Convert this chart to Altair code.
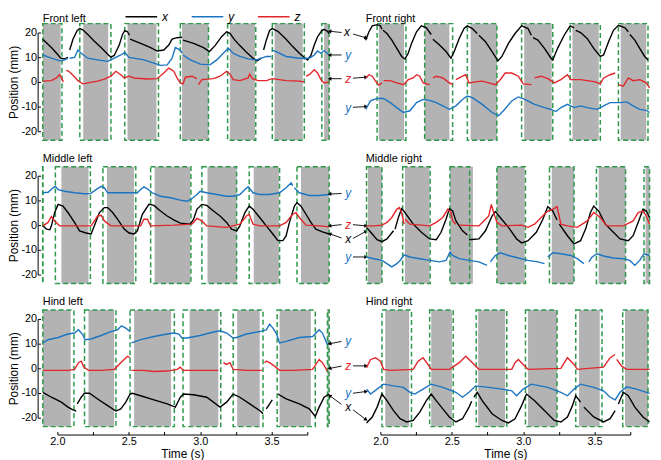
import math
import altair as alt
import pandas as pd

# ---------------- frame of the axes ----------------
T_MIN, T_MAX = 2.0, 3.75
Y_MIN, Y_MAX = -20, 20
BOX_TOP, BOX_BOT = 23.6, -23.6
PANEL_W, PANEL_H = 253, 100
TITLE_T = 1.898          # panel names start at the left edge of the traces
TITLE_V_TOP_ROW = 24.4   # baseline of the panel names (mm, above the frame)
TITLE_V = 25.6

BLACK = "#000000"
BLUE = "#1b75c2"
RED = "#e3262b"
GREEN = "#2c9a4a"
GRAY = "#b3b3b3"
SERIES = ["x", "y", "z"]
SERIES_COLORS = [BLACK, BLUE, RED]
X_TICKS = [2.0, 2.25, 2.5, 2.75, 3.0, 3.25, 3.5, 3.75]
Y_TICKS = [-20, -10, 0, 10, 20]
FONT = "Liberation Sans"

# ---------------- Front left ----------------
FL_X = [
    [(1.898, 17.3), (1.958, 13.9), (2.005, 10.9), (2.023, 9.6), (2.051, 9.3), (2.074, 9.9)],
    [(2.086, 12.9), (2.109, 17.3), (2.139, 20.8), (2.157, 21.6), (2.178, 21.1), (2.213, 19.2), (2.259, 16.5),
     (2.306, 13.9), (2.352, 11.2), (2.375, 10.0), (2.398, 10.7), (2.433, 14.9), (2.456, 19.2), (2.472, 20.8),
     (2.491, 20.3), (2.505, 18.9)],
    [(2.509, 17.3), (2.583, 15.6), (2.653, 13.9), (2.699, 12.5), (2.745, 12.9), (2.780, 14.9), (2.803, 17.3),
     (2.838, 17.9), (2.873, 18.1)],
    [(2.880, 16.9), (2.954, 15.6), (3.023, 13.9), (3.065, 12.3), (3.104, 14.7), (3.150, 18.3), (3.185, 20.3),
     (3.208, 19.7), (3.243, 16.9), (3.278, 14.7), (3.324, 12.0), (3.370, 9.6), (3.398, 8.5), (3.428, 9.6)],
    [(3.444, 12.9), (3.463, 16.9), (3.486, 20.8), (3.505, 21.6), (3.544, 20.5), (3.602, 17.3), (3.648, 14.3),
     (3.694, 11.6), (3.729, 9.9), (3.752, 8.9), (3.775, 10.7), (3.799, 14.9), (3.822, 18.3), (3.852, 20.8),
     (3.868, 21.3), (3.891, 20.5), (3.903, 19.6)],
]
FL_Y = [
    [(1.898, 10.9), (1.958, 9.6), (2.016, 8.5), (2.051, 8.9), (2.074, 9.6)],
    [(2.086, 9.6), (2.120, 9.9), (2.144, 12.9), (2.167, 11.6), (2.213, 9.6), (2.282, 8.9), (2.352, 8.3),
     (2.398, 9.6), (2.444, 10.9), (2.472, 11.9), (2.502, 9.9), (2.606, 8.9), (2.676, 7.6), (2.722, 6.7),
     (2.769, 6.9), (2.803, 9.6), (2.826, 13.9), (2.861, 12.9), (2.873, 11.6)],
    [(2.880, 10.9), (2.931, 8.9), (3.000, 7.2), (3.069, 6.9), (3.116, 8.9), (3.162, 11.6), (3.197, 13.6),
     (3.231, 11.6), (3.278, 10.3), (3.336, 9.3), (3.394, 8.9), (3.463, 10.3), (3.498, 10.3)],
    [(3.505, 12.9), (3.532, 12.3), (3.602, 10.3), (3.694, 9.6), (3.764, 9.6), (3.799, 10.9), (3.822, 12.5),
     (3.845, 11.6), (3.868, 12.7), (3.903, 10.9)],
]
FL_Z = [
    [(1.898, 0.3), (1.958, 0.5), (1.993, 1.6), (2.016, 2.9), (2.028, 1.6), (2.042, 0.0)],
    [(2.063, 4.8), (2.086, 4.0), (2.109, 2.7), (2.144, 0.5), (2.178, -0.8), (2.213, -0.4), (2.282, 0.3),
     (2.329, 1.1), (2.375, 2.3), (2.410, 4.3), (2.444, 2.9), (2.468, 1.6), (2.502, 2.3), (2.537, 1.6),
     (2.630, 1.2), (2.699, 1.3), (2.745, 3.6), (2.780, 5.6), (2.815, 4.3), (2.838, 1.6), (2.861, -0.4),
     (2.880, -0.8), (2.896, 1.9), (2.942, 2.3), (2.977, 1.3)],
    [(2.988, -1.1), (3.012, 0.9), (3.093, 1.3), (3.139, 2.3), (3.185, 4.3), (3.208, 3.2), (3.231, 0.9),
     (3.278, 0.5), (3.336, 1.6), (3.347, 3.2), (3.366, 1.3), (3.405, 0.5), (3.463, 0.5), (3.505, 1.3),
     (3.602, 0.5), (3.694, 0.3), (3.729, 0.0)],
    [(3.741, 2.3), (3.764, 2.9), (3.799, 4.9), (3.822, 3.6), (3.845, 0.9), (3.868, -0.4), (3.903, 0.0)],
]
FL_STANCE = [(1.898, 2.023), (2.181, 2.356), (2.491, 2.694), (2.873, 3.058), (3.208, 3.384), (3.521, 3.718),
             (3.868, 3.903)]
FL_BOX = [(1.898, 2.032), (2.157, 2.375), (2.472, 2.708), (2.861, 3.058), (3.192, 3.389), (3.505, 3.729),
          (3.852, 3.903)]

# ---------------- Front right ----------------
FR_X = [
    [(1.897, 16.9), (1.920, 20.3), (1.943, 22.7), (1.977, 23.2), (2.000, 22.7), (2.011, 21.3)],
    [(2.018, 20.9), (2.046, 19.6), (2.080, 16.9), (2.115, 13.6), (2.149, 10.3), (2.172, 9.3), (2.195, 11.6),
     (2.218, 15.6), (2.253, 20.3), (2.287, 22.7), (2.322, 21.9), (2.356, 19.2)],
    [(2.368, 17.3), (2.414, 14.9), (2.460, 12.3), (2.494, 9.6), (2.517, 12.3), (2.552, 17.6), (2.586, 21.6),
     (2.609, 22.7), (2.644, 21.6), (2.678, 19.6)],
    [(2.690, 18.9), (2.736, 16.3), (2.782, 12.3), (2.823, 8.5), (2.851, 10.3), (2.897, 15.6), (2.943, 19.6),
     (2.989, 22.7), (3.034, 21.6), (3.057, 18.9)],
    [(3.069, 17.9), (3.103, 16.9), (3.149, 13.6), (3.195, 9.6), (3.207, 8.9), (3.241, 13.6), (3.287, 18.9),
     (3.329, 22.7), (3.356, 21.9)],
    [(3.368, 20.9), (3.402, 20.0), (3.448, 17.6), (3.494, 13.6), (3.540, 10.3), (3.563, 10.9), (3.598, 16.3),
     (3.632, 20.9), (3.667, 22.9), (3.713, 21.9), (3.736, 20.3)],
    [(3.747, 19.2), (3.782, 16.9), (3.816, 13.6), (3.851, 10.3), (3.874, 8.9)],
]
FR_Y = [
    [(1.897, -11.1), (1.931, -7.7), (1.977, -6.7), (2.023, -6.7), (2.069, -8.4), (2.115, -10.4), (2.161, -12.4),
     (2.207, -11.7), (2.253, -8.4), (2.299, -7.1), (2.345, -7.5), (2.391, -8.4), (2.437, -9.7), (2.483, -11.1),
     (2.529, -9.7), (2.575, -7.1), (2.609, -5.7), (2.644, -6.4), (2.713, -9.1), (2.782, -12.4), (2.828, -13.7),
     (2.862, -11.7), (2.920, -7.7), (2.966, -6.1), (3.011, -7.1), (3.080, -9.1), (3.149, -10.4), (3.195, -11.1),
     (3.230, -12.0), (3.264, -10.4), (3.310, -9.1), (3.356, -10.4), (3.402, -9.7), (3.448, -10.4),
     (3.517, -11.1), (3.563, -9.7), (3.609, -8.4), (3.678, -8.4), (3.724, -8.1), (3.770, -9.7), (3.816, -11.1),
     (3.862, -11.5), (3.885, -12.4)],
]
FR_Z = [
    [(1.897, 1.6), (1.920, 2.9), (1.943, 2.3), (1.966, 0.3), (1.989, -1.3), (2.011, -0.4)],
    [(2.023, 0.5), (2.069, 0.5), (2.115, -0.4), (2.161, -1.1), (2.195, 0.9), (2.230, 1.6), (2.253, 2.9),
     (2.276, 2.3), (2.299, -0.4), (2.345, -1.1)],
    [(2.368, 1.6), (2.391, 2.3), (2.437, 1.6), (2.483, -0.4), (2.506, -1.1)],
    [(2.529, 0.9), (2.575, 2.3), (2.598, 2.9), (2.621, -0.4), (2.667, 0.0), (2.713, 0.3), (2.759, -0.4),
     (2.805, -1.1), (2.839, 0.9), (2.874, 3.6), (2.920, 3.6), (2.966, 2.3), (3.000, -0.8), (3.057, -1.1)],
    [(3.080, 1.6), (3.126, 2.3), (3.172, 1.3), (3.218, -0.4), (3.264, 0.9), (3.310, 2.9), (3.333, 0.9),
     (3.402, 0.9), (3.506, 0.0), (3.540, -0.8), (3.563, 1.6), (3.609, 2.9), (3.644, 3.6)],
    [(3.667, -1.1), (3.701, -1.7), (3.736, 1.6), (3.770, 0.5), (3.816, 0.9), (3.862, -0.4), (3.885, -2.4)],
]
FR_STANCE = [(1.989, 2.166), (2.310, 2.483), (2.632, 2.816), (3.007, 3.200), (3.345, 3.529), (3.683, 3.862)]
FR_BOX = [(1.977, 2.179), (2.310, 2.506), (2.609, 2.816), (2.989, 3.207), (3.329, 3.540), (3.667, 3.874)]

# ---------------- Middle left ----------------
ML_X = [
    [(1.898, -0.3), (1.924, -1.6), (1.947, -1.9), (1.958, -0.3), (1.981, 5.1), (2.005, 8.4), (2.039, 7.7),
     (2.074, 5.1), (2.120, 1.1), (2.155, -2.3), (2.201, -3.2), (2.236, -3.6), (2.259, -0.3), (2.294, 5.1),
     (2.329, 7.1), (2.352, 7.1), (2.387, 5.1), (2.421, 2.4), (2.468, -1.6), (2.502, -3.2), (2.537, -3.6),
     (2.560, -2.3), (2.595, 4.4), (2.641, 8.4), (2.676, 8.0), (2.722, 5.7), (2.769, 3.7), (2.815, 2.1),
     (2.861, 0.8), (2.931, 0.4), (2.954, 2.4), (2.977, 6.4), (3.012, 8.4), (3.046, 8.0), (3.093, 5.7),
     (3.139, 3.7), (3.185, 1.1), (3.220, -1.6), (3.255, -2.3), (3.278, -0.3), (3.313, 5.1), (3.343, 7.7),
     (3.370, 6.4), (3.417, 3.1), (3.463, -0.3), (3.509, -3.6), (3.544, -6.3), (3.579, -6.3), (3.602, -4.3),
     (3.625, 1.1), (3.660, 7.7), (3.678, 9.1), (3.706, 7.7), (3.741, 4.4), (3.775, 1.1), (3.810, -1.6),
     (3.856, -2.7), (3.903, -3.6)],
]
ML_Y = [
    [(1.898, 13.1), (1.935, 13.3), (1.970, 15.1), (1.986, 15.7), (2.005, 14.4), (2.051, 13.7), (2.120, 13.1),
     (2.190, 12.7), (2.231, 12.8), (2.271, 14.4), (2.306, 15.7), (2.329, 15.1), (2.352, 13.1), (2.491, 13.1),
     (2.560, 13.1), (2.583, 14.4), (2.606, 15.5), (2.630, 14.7), (2.664, 13.1), (2.722, 11.7), (2.792, 11.1),
     (2.861, 10.1), (2.907, 9.7), (2.942, 10.7), (2.977, 12.4), (3.000, 13.7), (3.046, 13.1), (3.116, 12.4),
     (3.185, 11.7), (3.231, 11.7), (3.278, 12.4), (3.313, 14.4), (3.336, 15.5), (3.370, 13.1), (3.417, 12.4),
     (3.486, 12.4), (3.556, 13.1), (3.602, 15.1), (3.637, 17.1), (3.648, 16.0)],
    [(3.660, 15.1), (3.694, 13.1), (3.764, 12.0), (3.833, 12.0), (3.903, 12.4)],
]
ML_Z = [
    [(1.898, -0.3), (1.935, 1.1), (1.958, 3.5), (1.981, 1.7), (2.016, -0.3), (2.144, -0.3), (2.236, -0.3),
     (2.259, 1.7), (2.282, 3.7), (2.306, 4.0), (2.329, 1.7), (2.375, -0.3), (2.583, -0.3), (2.606, 2.4),
     (2.630, 2.4), (2.653, -0.3), (2.815, 0.0), (2.942, 0.4), (2.977, 2.7), (3.012, 1.7), (3.046, -0.3),
     (3.185, -0.9), (3.278, 0.4), (3.324, 3.7), (3.343, 4.4), (3.370, 0.4), (3.417, -0.3), (3.556, -0.3),
     (3.602, 1.1), (3.648, 4.4), (3.671, 5.1), (3.694, 3.1), (3.741, 0.0), (3.833, -0.3), (3.903, -0.7)],
]
ML_STANCE = [(2.028, 2.218), (2.347, 2.537), (2.681, 2.931), (3.051, 3.255), (3.375, 3.551), (3.706, 3.903)]
ML_BOX = [(1.897, 1.899), (1.986, 2.231), (2.319, 2.549), (2.653, 2.935), (3.012, 3.255), (3.343, 3.556),
          (3.678, 3.903)]

# ---------------- Middle right ----------------
MR_X = [
    [(1.903, -0.9), (1.943, -3.6), (1.977, -5.9), (2.011, -6.7), (2.046, -5.6), (2.092, -2.3)],
    [(2.103, -1.6), (2.126, 3.1), (2.149, 6.7), (2.172, 5.1), (2.230, 0.4), (2.287, -2.9), (2.345, -5.6),
     (2.391, -5.9), (2.425, -2.9), (2.460, 2.4), (2.483, 6.7), (2.506, 5.7), (2.529, 1.7), (2.575, -2.3),
     (2.609, -4.0)],
    [(2.621, -5.9), (2.690, -5.6), (2.736, -2.3), (2.782, 3.7), (2.805, 5.5), (2.839, 3.1), (2.897, -0.9),
     (2.954, -5.6), (2.989, -7.2), (3.034, -6.3), (3.092, -2.9), (3.138, 2.4), (3.172, 7.5), (3.207, 5.7),
     (3.237, 2.1)],
    [(3.253, 0.4), (3.310, -4.3), (3.356, -7.6), (3.402, -6.3), (3.437, -1.6), (3.471, 5.1), (3.494, 7.7),
     (3.529, 5.7), (3.575, 0.4), (3.632, -2.9), (3.678, -5.6), (3.736, -6.3), (3.770, -4.3), (3.805, 1.1),
     (3.839, 6.4), (3.862, 5.7), (3.885, 3.1)],
]
MR_Y = [
    [(1.903, -12.9), (1.954, -13.6), (2.011, -14.3), (2.046, -15.6), (2.080, -16.9), (2.115, -15.6),
     (2.138, -14.3), (2.166, -12.0), (2.207, -12.9), (2.276, -13.6), (2.345, -14.3), (2.414, -14.9),
     (2.460, -14.3), (2.487, -10.9), (2.506, -12.3), (2.552, -13.6), (2.621, -14.3), (2.690, -14.9),
     (2.747, -16.3)],
    [(2.770, -14.9), (2.805, -12.3), (2.839, -11.2), (2.897, -12.3), (2.966, -13.3), (3.034, -14.3),
     (3.103, -14.9), (3.149, -15.6)],
    [(3.172, -12.9), (3.207, -11.2), (3.264, -11.6), (3.333, -12.3), (3.379, -13.6), (3.425, -15.6)],
    [(3.460, -14.9), (3.483, -12.9), (3.517, -11.6), (3.563, -12.5), (3.632, -13.3), (3.701, -13.6),
     (3.747, -14.3), (3.782, -16.3), (3.816, -14.3), (3.846, -11.6), (3.885, -12.3)],
]
MR_Z = [
    [(1.903, -0.3), (1.954, -0.3), (2.011, 0.0), (2.046, 1.1), (2.080, 3.1), (2.115, 6.4), (2.133, 7.1),
     (2.149, 5.1), (2.166, 0.4)],
    [(2.172, 2.4), (2.207, 0.4), (2.345, -0.3), (2.391, 1.1), (2.437, 3.1), (2.471, 6.4), (2.494, 5.1),
     (2.506, 1.7), (2.529, 0.4)],
    [(2.552, 0.0), (2.690, -0.3), (2.724, 1.7), (2.759, 3.7), (2.777, 8.4), (2.793, 5.1), (2.816, 1.1),
     (2.851, -0.3), (2.989, 0.0), (3.034, -0.9), (3.080, 0.4), (3.126, 3.1), (3.172, 5.7), (3.207, 6.4),
     (3.237, 7.5), (3.264, 0.4), (3.310, -0.3), (3.379, -0.9), (3.448, 1.7), (3.494, 5.1), (3.540, 3.1),
     (3.586, -0.3), (3.701, -0.3), (3.770, 1.7), (3.805, 5.1), (3.839, 5.7), (3.862, 3.7), (3.885, 0.4)],
]
MR_STANCE = [(1.912, 2.011), (2.172, 2.345), (2.487, 2.648), (2.816, 3.011), (3.200, 3.356), (3.529, 3.717),
             (3.857, 3.885)]
MR_BOX = [(1.903, 2.011), (2.156, 2.349), (2.487, 2.625), (2.816, 3.016), (3.184, 3.356), (3.513, 3.717),
          (3.846, 3.885)]

# ---------------- Hind left ----------------
HL_X = [
    [(1.898, -9.7), (1.958, -11.7), (2.028, -13.7), (2.074, -15.7), (2.109, -16.8), (2.132, -17.3)],
    [(2.139, -14.4), (2.167, -11.7), (2.190, -10.1), (2.225, -10.1), (2.282, -12.4), (2.352, -15.1),
     (2.410, -17.3), (2.444, -16.4), (2.479, -13.7), (2.509, -10.4), (2.525, -10.1), (2.583, -11.1),
     (2.676, -12.8), (2.769, -14.4), (2.826, -15.7), (2.861, -11.7), (2.884, -10.4), (2.954, -10.7),
     (3.046, -11.7), (3.139, -15.7), (3.185, -13.7), (3.231, -10.4), (3.278, -11.7), (3.347, -14.4),
     (3.417, -17.1), (3.440, -18.4)],
    [(3.463, -16.4), (3.486, -14.4), (3.505, -12.8)],
    [(3.544, -10.4), (3.602, -12.4), (3.694, -14.4), (3.764, -16.4), (3.806, -19.5), (3.833, -15.7),
     (3.868, -11.7), (3.903, -10.4)],
]
HL_Y = [
    [(1.898, 10.3), (1.935, 11.6), (2.005, 12.5), (2.074, 13.9), (2.120, 14.3), (2.148, 15.6), (2.178, 13.6),
     (2.194, 11.6), (2.236, 11.9), (2.306, 13.3), (2.375, 14.9), (2.421, 15.6), (2.449, 17.2), (2.479, 16.3),
     (2.509, 14.9)],
    [(2.519, 10.3), (2.583, 11.6), (2.676, 12.9), (2.769, 13.9), (2.815, 14.3), (2.850, 13.9), (2.873, 12.3),
     (2.907, 12.3), (3.000, 13.3), (3.093, 14.7), (3.139, 15.2), (3.185, 14.3), (3.231, 12.3), (3.255, 12.5),
     (3.324, 13.9), (3.417, 14.9), (3.463, 15.6), (3.486, 17.9), (3.509, 16.3), (3.532, 14.3), (3.556, 10.3),
     (3.602, 10.9), (3.694, 12.5), (3.787, 12.9), (3.822, 14.9), (3.833, 15.6), (3.856, 14.3), (3.891, 9.6)],
]
HL_Z = [
    [(1.898, -0.8), (2.074, -0.8), (2.120, -0.4), (2.148, 2.3), (2.167, 2.9), (2.185, 0.5), (2.218, -0.8),
     (2.306, -0.8), (2.398, -0.4), (2.444, 2.3), (2.491, 4.9), (2.509, 4.3)],
    [(2.519, -0.8), (2.606, -0.8), (2.676, -1.3), (2.769, -1.1), (2.838, -0.4), (2.861, 0.5), (2.880, -0.8),
     (3.000, -0.8), (3.127, -0.8)],
    [(3.162, 2.3), (3.185, 1.6), (3.208, 2.3), (3.231, -0.4), (3.324, -0.8), (3.435, -0.8)],
    [(3.451, 2.3), (3.463, 2.9), (3.486, 2.3), (3.521, 0.9), (3.556, -0.8), (3.648, -0.8), (3.787, -0.4),
     (3.833, 3.6), (3.856, 2.3), (3.891, -1.1)],
]
HL_STANCE = [(1.898, 2.093), (2.218, 2.398), (2.537, 2.796), (2.926, 3.127), (3.259, 3.417), (3.556, 3.775),
             (3.891, 3.903)]
HL_BOX = [(1.898, 2.116), (2.190, 2.410), (2.509, 2.819), (2.880, 3.144), (3.231, 3.440), (3.539, 3.806),
          (3.891, 3.903)]

# ---------------- Hind right ----------------
HR_X = [
    [(1.903, -22.1), (1.943, -19.7), (1.977, -15.7), (2.011, -10.4), (2.046, -13.1), (2.092, -17.1),
     (2.138, -20.4), (2.184, -21.7), (2.230, -21.1), (2.276, -17.7), (2.322, -13.1), (2.356, -10.4),
     (2.391, -13.1), (2.437, -16.4), (2.483, -19.7), (2.529, -21.7), (2.575, -20.4), (2.621, -15.7),
     (2.639, -13.3)],
    [(2.655, -11.7), (2.678, -9.7), (2.713, -13.1), (2.782, -18.4), (2.851, -21.1), (2.897, -22.1),
     (2.943, -20.4), (2.989, -15.1), (3.023, -10.4), (3.080, -13.1), (3.149, -17.1), (3.218, -21.1),
     (3.264, -21.7), (3.310, -19.7), (3.345, -15.1), (3.368, -11.1), (3.402, -13.7)],
    [(3.425, -15.7), (3.494, -19.7), (3.563, -21.7), (3.609, -20.4), (3.644, -17.1)],
    [(3.667, -14.4), (3.701, -9.7), (3.736, -11.1), (3.782, -15.7), (3.839, -19.7), (3.885, -21.7)],
]
HR_Y = [
    [(1.903, -8.4), (1.931, -10.4), (1.977, -8.4), (2.023, -6.4), (2.092, -7.1), (2.161, -7.7), (2.207, -9.7),
     (2.241, -10.4), (2.299, -8.4), (2.356, -6.4), (2.437, -7.7), (2.529, -9.7), (2.575, -11.7), (2.621, -9.7),
     (2.667, -7.1), (2.759, -7.7), (2.851, -8.4), (2.920, -9.1), (2.954, -11.1), (3.000, -8.4), (3.057, -6.4),
     (3.172, -7.7), (3.264, -9.7), (3.310, -11.1), (3.356, -8.4), (3.402, -6.4), (3.494, -7.7), (3.563, -9.1),
     (3.609, -11.7), (3.644, -12.8), (3.678, -9.7), (3.724, -7.5), (3.793, -8.4), (3.885, -10.1)],
]
HR_Z = [
    [(1.903, 0.3), (1.931, 3.6), (1.966, 4.3), (2.000, 2.9), (2.023, -0.4), (2.069, -0.8), (2.230, -0.4),
     (2.264, 2.9), (2.299, 4.3), (2.333, 1.6), (2.356, -0.4), (2.483, -0.4), (2.552, 2.3), (2.598, 4.9),
     (2.644, 2.3), (2.690, -0.4), (2.920, -0.4), (2.943, 2.3), (2.966, 3.6), (3.000, 1.6), (3.034, -0.4),
     (3.264, 0.0), (3.310, 4.3), (3.356, 1.6), (3.379, -0.4), (3.563, 0.5), (3.609, 4.3), (3.644, 5.6)],
    [(3.655, 3.6), (3.690, 0.9), (3.724, -0.4), (3.885, -0.4)],
]
HR_STANCE = [(2.034, 2.202), (2.356, 2.501), (2.685, 2.874), (3.034, 3.237), (3.391, 3.536), (3.713, 3.874)]
HR_BOX = [(2.011, 2.218), (2.345, 2.510), (2.671, 2.885), (3.016, 3.237), (3.368, 3.552), (3.697, 3.874)]

# ---------------- labels between the columns (left-panel time scale) ----------------
ROW1_LABELS = [("x", 4.027, 20.0), ("y", 4.037, 10.9), ("z", 4.037, 1.3), ("y", 4.037, -10.4)]
ROW1_ARROWS = [(3.99, 20.0, 3.91, 20.5), (4.07, 19.4, 4.158, 17.9), (3.99, 10.9, 3.91, 10.9),
               (3.99, 1.3, 3.91, 1.3), (4.07, 1.5, 4.158, 1.9), (4.07, -10.3, 4.158, -10.0)]
ROW2_LABELS = [("y", 4.037, 12.8), ("z", 4.037, 0.2), ("x", 4.037, -5.8), ("y", 4.037, -12.9)]
ROW2_ARROWS = [(3.99, 0.2, 3.91, -0.3), (4.07, 0.2, 4.158, -0.3), (3.99, 12.8, 3.91, 12.6),
               (3.99, -5.2, 3.91, -3.6), (4.07, -5.4, 4.158, -2.6), (4.07, -12.9, 4.158, -12.9)]
ROW3_LABELS = [("y", 4.037, 10.9), ("z", 4.037, 0.9), ("y", 4.037, -10.1), ("x", 4.037, -15.8)]
ROW3_ARROWS = [(3.99, 10.9, 3.91, 10.0), (3.99, 0.9, 3.91, 0.0), (4.07, 1.0, 4.158, 1.0),
               (4.07, -10.1, 4.158, -9.4), (3.99, -14.6, 3.91, -11.2), (4.07, -16.8, 4.158, -20.6)]

PX_PER_S = PANEL_W / (T_MAX - T_MIN)
PX_PER_MM = PANEL_H / (Y_MAX - Y_MIN)

X_SCALE = alt.Scale(domain=[T_MIN, T_MAX], nice=False, zero=False)
Y_SCALE = alt.Scale(domain=[Y_MIN, Y_MAX], nice=False, zero=False)

Y_AXIS = alt.Axis(values=Y_TICKS, offset=20, tickSize=0, labelPadding=1, grid=False,
                  domainColor=BLACK, domainWidth=1, labelColor=BLACK, labelFontSize=11, labelFont=FONT,
                  labelExpr="datum.value < 0 ? '-' + format(-datum.value, 'd') : format(datum.value, 'd')",
                  title="Position (mm)", titleFontSize=12, titleFontWeight="normal", titleFont=FONT,
                  titleColor=BLACK, titlePadding=0)
Y_TICK_AXIS = alt.Axis(values=Y_TICKS, offset=17, tickSize=3, tickColor=BLACK, tickWidth=1, labels=False,
                       domain=False, grid=False, title=None, orient="left")
X_AXIS = alt.Axis(values=X_TICKS, offset=17, tickSize=0, labelPadding=1, grid=False,
                  domainColor=BLACK, domainWidth=1, labelColor=BLACK, labelFontSize=11, labelFont=FONT,
                  labelExpr="round(datum.value * 4) % 2 == 0 ? format(datum.value, '.1f') : ''",
                  labelFlush=False, labelOverlap=False,
                  title="Time (s)", titleFontSize=12, titleFontWeight="normal", titleFont=FONT,
                  titleColor=BLACK, titlePadding=2)
X_TICK_AXIS = alt.Axis(values=X_TICKS, offset=14, tickSize=3, tickColor=BLACK, tickWidth=1, labels=False,
                       domain=False, grid=False, title=None, orient="bottom")

# legend line: a long horizontal path on a small symbol, so the legend stays one text-line tall
LEGEND = alt.Legend(orient="none", legendX=79, legendY=-22, direction="horizontal", title=None,
                    symbolType="M-3.2,0H3.2", symbolSize=100, symbolStrokeWidth=1.5,
                    labelFontStyle="italic", labelFontSize=12, labelFont=FONT, labelColor=BLACK,
                    labelOffset=15, columnPadding=21, padding=0)
COLOR = alt.Color("series:N", scale=alt.Scale(domain=SERIES, range=SERIES_COLORS), legend=LEGEND)


def line_frame(x_segs, y_segs, z_segs):
    rows = []
    for name, segs in zip(SERIES, (x_segs, y_segs, z_segs)):
        for k, seg in enumerate(segs):
            for i, (t, v) in enumerate(seg):
                rows.append({"series": name, "seg": f"{name}{k}", "i": i, "t": t, "v": v})
    return pd.DataFrame(rows)


def span_frame(spans):
    return pd.DataFrame({"t0": [a for a, _ in spans], "t1": [b for _, b in spans],
                         "top": BOX_TOP, "bot": BOX_BOT})


def panel(title, xs, ys, zs, stance, boxes, left, bottom, labels=None, arrows=None, title_v=TITLE_V):
    gray = alt.Chart(span_frame(stance)).mark_rect(color=GRAY).encode(
        x=alt.X("t0:Q", scale=X_SCALE, axis=X_AXIS if bottom else None),
        x2="t1:Q",
        y=alt.Y("top:Q", scale=Y_SCALE, axis=Y_AXIS if left else None),
        y2="bot:Q",
    )
    dashed = alt.Chart(span_frame(boxes)).mark_rect(fillOpacity=0, stroke=GREEN, strokeWidth=1.5,
                                                    strokeDash=[5, 3]).encode(
        x=alt.X("t0:Q", scale=X_SCALE, axis=X_TICK_AXIS if bottom else None),
        x2="t1:Q",
        y=alt.Y("top:Q", scale=Y_SCALE, axis=Y_TICK_AXIS if left else None),
        y2="bot:Q",
    )
    lines = alt.Chart(line_frame(xs, ys, zs)).mark_line(strokeWidth=1.4).encode(
        x=alt.X("t:Q", scale=X_SCALE, axis=None),
        y=alt.Y("v:Q", scale=Y_SCALE, axis=None),
        color=COLOR,
        detail="seg:N",
        order="i:Q",
    )
    name = alt.Chart(pd.DataFrame({"text": [title], "t": [TITLE_T], "v": [title_v]})).mark_text(
        align="left", baseline="alphabetic", fontSize=11, font=FONT, color=BLACK).encode(
        x=alt.X("t:Q", scale=X_SCALE, axis=None),
        y=alt.Y("v:Q", scale=Y_SCALE, axis=None),
        text="text:N",
    )
    layers = [gray, dashed, lines, name]
    if labels:
        cmap = dict(zip(SERIES, SERIES_COLORS))
        lab = pd.DataFrame({"text": [s for s, _, _ in labels], "t": [t for _, t, _ in labels],
                            "v": [v for _, _, v in labels]})
        lab["col"] = lab["text"].map(cmap)
        arr = pd.DataFrame(arrows, columns=["t0", "v0", "t1", "v1"])
        arr["ang"] = [
            math.degrees(math.atan2((r.t1 - r.t0) * PX_PER_S, (r.v1 - r.v0) * PX_PER_MM)) % 360
            for r in arr.itertuples()
        ]
        layers.append(alt.Chart(lab).mark_text(fontSize=12, fontStyle="italic", font=FONT, align="center",
                                               baseline="middle").encode(
            x=alt.X("t:Q", scale=X_SCALE, axis=None),
            y=alt.Y("v:Q", scale=Y_SCALE, axis=None),
            text="text:N",
            color=alt.Color("col:N", scale=None),
        ))
        layers.append(alt.Chart(arr).mark_rule(color=BLACK, strokeWidth=0.9).encode(
            x=alt.X("t0:Q", scale=X_SCALE, axis=None),
            y=alt.Y("v0:Q", scale=Y_SCALE, axis=None),
            x2="t1:Q",
            y2="v1:Q",
        ))
        layers.append(alt.Chart(arr).mark_point(shape="triangle", filled=True, size=18, color=BLACK,
                                                opacity=1).encode(
            x=alt.X("t1:Q", scale=X_SCALE, axis=None),
            y=alt.Y("v1:Q", scale=Y_SCALE, axis=None),
            angle=alt.Angle("ang:Q", scale=None),
        ))
    return alt.layer(*layers).properties(width=PANEL_W, height=PANEL_H).resolve_axis(
        x="independent", y="independent")


fl = panel("Front left", FL_X, FL_Y, FL_Z, FL_STANCE, FL_BOX, True, False, ROW1_LABELS, ROW1_ARROWS,
           title_v=TITLE_V_TOP_ROW)
fr = panel("Front right", FR_X, FR_Y, FR_Z, FR_STANCE, FR_BOX, False, False, title_v=TITLE_V_TOP_ROW)
ml = panel("Middle left", ML_X, ML_Y, ML_Z, ML_STANCE, ML_BOX, True, False, ROW2_LABELS, ROW2_ARROWS)
mr = panel("Middle right", MR_X, MR_Y, MR_Z, MR_STANCE, MR_BOX, False, False)
hl = panel("Hind left", HL_X, HL_Y, HL_Z, HL_STANCE, HL_BOX, True, True, ROW3_LABELS, ROW3_ARROWS)
hr = panel("Hind right", HR_X, HR_Y, HR_Z, HR_STANCE, HR_BOX, False, True)

chart = alt.concat(fl, fr, ml, mr, hl, hr, columns=2, spacing={"row": 45, "column": 74},
                   bounds="flush").resolve_scale(
    x="independent", y="independent", color="shared").resolve_axis(
    x="independent", y="independent").properties(padding=0).configure(
    font=FONT).configure_view(stroke=None)

chart.save("out.html", embed_options={"renderer": "svg", "actions": False})
